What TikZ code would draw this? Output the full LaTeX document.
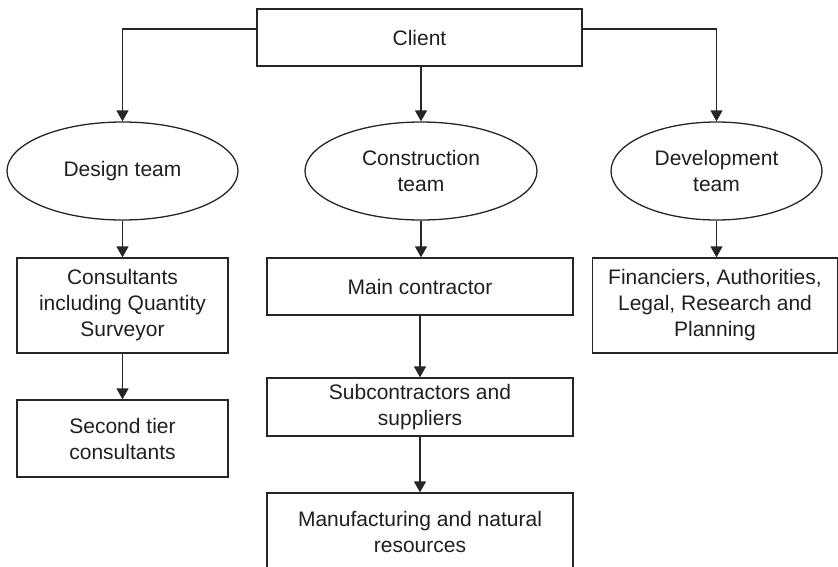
\documentclass[tikz,border=0pt]{standalone}
\usepackage{fontspec}
\setmainfont{Liberation Sans}
\usetikzlibrary{shapes.geometric,arrows.meta}

\tikzset{
  label font/.style={font=\fontsize{21}{26}\selectfont, text=black!88, align=center},
  box/.style={draw=black!85, line width=1.3pt, rectangle, inner sep=0pt, label font},
  team/.style={draw=black!85, line width=1.3pt, ellipse, inner sep=0pt, label font},
  arr/.style={draw=black!85, line width=1.3pt, -{Triangle[length=11pt,width=12pt]}},
}

\begin{document}
\begin{tikzpicture}[x=1pt,y=-1pt]
  \useasboundingbox (0,0) rectangle (838,566);
  \clip (0,0) rectangle (838,566);

  % top level
  \node[box, minimum width=325pt, minimum height=57pt] (client) at (419.5,37.5) {Client};

  % teams
  \node[team, minimum width=231pt, minimum height=98pt] (design) at (122.5,171) {Design team};
  \node[team, minimum width=232pt, minimum height=98pt] (construction) at (421,171) {Construction\\team};
  \node[team, minimum width=211pt, minimum height=98pt] (development) at (716.5,171) {Development\\team};

  % design branch
  \node[box, minimum width=211pt, minimum height=95pt] (consultants) at (122.5,305.5) {Consultants\\including Quantity\\Surveyor};
  \node[box, minimum width=211pt, minimum height=77pt] (secondtier) at (122.5,438.5) {Second tier\\consultants};

  % construction branch
  \node[box, minimum width=306pt, minimum height=57pt] (maincon) at (420,286.5) {Main contractor};
  \node[box, minimum width=306pt, minimum height=58pt] (subcon) at (420,407) {Subcontractors and\\suppliers};
  \node[box, minimum width=306pt, minimum height=77pt] (manuf) at (420,531.5) {Manufacturing and natural\\resources};

  % development branch
  \node[box, minimum width=245pt, minimum height=95pt] (financiers) at (715,305.5) {Financiers, Authorities,\\Legal, Research and\\Planning};

  % connectors
  \draw[arr] ([yshift=8.5pt]client.west) -| (design.north);
  \draw[arr] ([yshift=8.5pt]client.east) -| (development.north);
  \draw[arr] (client.south -| construction.north) -- (construction.north);
  \draw[arr] (design.south) -- (consultants.north -| design.south);
  \draw[arr] (consultants.south) -- (secondtier.north);
  \draw[arr] (construction.south) -- (maincon.north -| construction.south);
  \draw[arr] (maincon.south) -- (subcon.north);
  \draw[arr] (subcon.south) -- (manuf.north);
  \draw[arr] (development.south) -- (financiers.north -| development.south);
\end{tikzpicture}
\end{document}
